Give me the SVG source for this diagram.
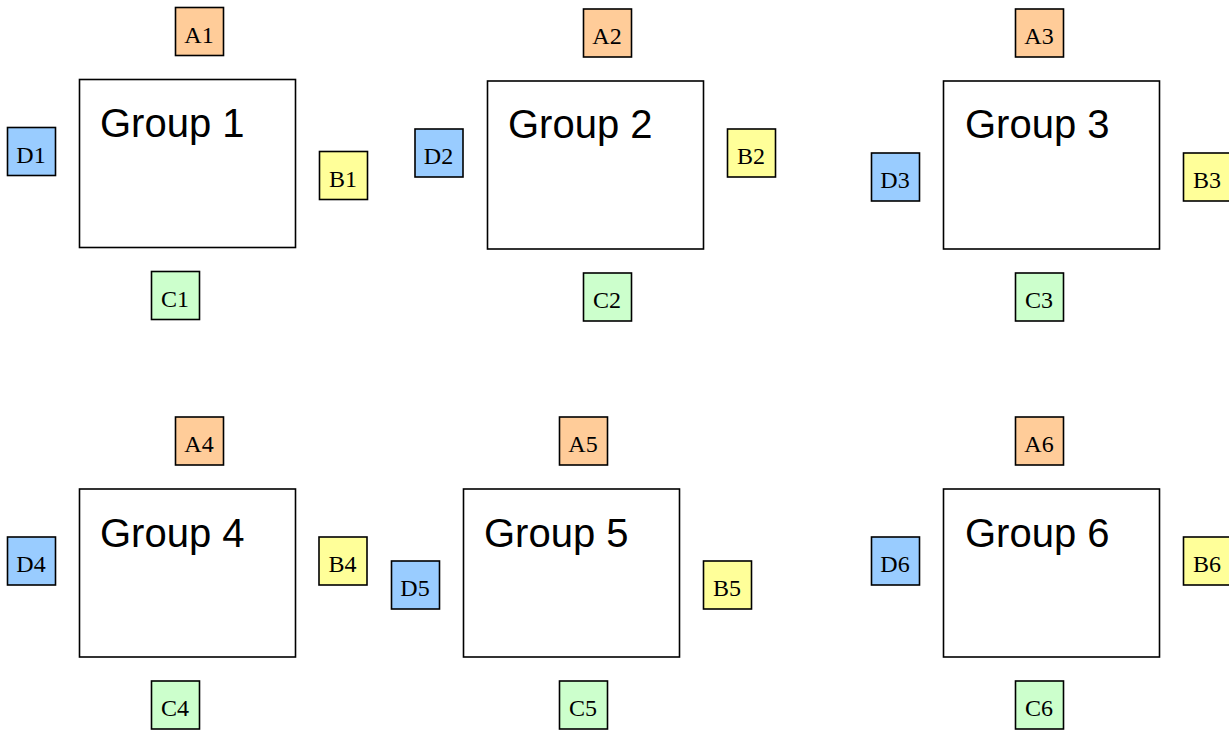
<svg xmlns="http://www.w3.org/2000/svg" width="1229" height="731" viewBox="0 0 1229 731">
  <style>
    .group rect { fill: #ffffff; stroke: #000000; stroke-width: 1.6; }
    .group text { font-family: "Liberation Sans", Arial, sans-serif; font-size: 40px; fill: #000000; }
    .port rect { stroke: #000000; stroke-width: 1.6; }
    .port text { font-family: "Liberation Serif", "Times New Roman", serif; font-size: 24px; fill: #000000; text-anchor: middle; }
    .a rect { fill: #ffcc99; }
    .b rect { fill: #ffff99; }
    .c rect { fill: #ccffcc; }
    .d rect { fill: #99ccff; }
  </style>
  <rect x="0" y="0" width="1229" height="731" fill="#ffffff"/>

  <!-- group containers -->
  <g id="group1" class="group"><rect x="79.5" y="79.5" width="216" height="168"/><text x="100" y="137">Group 1</text></g>
  <g id="group2" class="group"><rect x="487.5" y="81" width="216" height="168"/><text x="508" y="137.5">Group 2</text></g>
  <g id="group3" class="group"><rect x="943.5" y="81" width="216" height="168"/><text x="965" y="137.5">Group 3</text></g>
  <g id="group4" class="group"><rect x="79.5" y="489" width="216" height="168"/><text x="100" y="547">Group 4</text></g>
  <g id="group5" class="group"><rect x="463.5" y="489" width="216" height="168"/><text x="484" y="547">Group 5</text></g>
  <g id="group6" class="group"><rect x="943.5" y="489" width="216" height="168"/><text x="965" y="547">Group 6</text></g>

  <!-- ports around group 1 -->
  <g id="A1" class="port a"><rect x="175.5" y="7.5" width="48" height="48"/><text x="199" y="42.5">A1</text></g>
  <g id="B1" class="port b"><rect x="319.5" y="151.5" width="48" height="48"/><text x="343" y="186.5">B1</text></g>
  <g id="C1" class="port c"><rect x="151.5" y="271.5" width="48" height="48"/><text x="175" y="306.5">C1</text></g>
  <g id="D1" class="port d"><rect x="7.5" y="127.5" width="48" height="48"/><text x="31" y="162.5">D1</text></g>

  <!-- ports around group 2 -->
  <g id="A2" class="port a"><rect x="583.5" y="9" width="48" height="48"/><text x="607" y="44">A2</text></g>
  <g id="B2" class="port b"><rect x="727.5" y="129" width="48" height="48"/><text x="751" y="164">B2</text></g>
  <g id="C2" class="port c"><rect x="583.5" y="273" width="48" height="48"/><text x="607" y="308">C2</text></g>
  <g id="D2" class="port d"><rect x="415" y="129" width="48" height="48"/><text x="438.5" y="164">D2</text></g>

  <!-- ports around group 3 -->
  <g id="A3" class="port a"><rect x="1015.5" y="9" width="48" height="48"/><text x="1039" y="44">A3</text></g>
  <g id="B3" class="port b"><rect x="1183.5" y="153" width="48" height="48"/><text x="1207" y="188">B3</text></g>
  <g id="C3" class="port c"><rect x="1015.5" y="273" width="48" height="48"/><text x="1039" y="308">C3</text></g>
  <g id="D3" class="port d"><rect x="871.5" y="153" width="48" height="48"/><text x="895" y="188">D3</text></g>

  <!-- ports around group 4 -->
  <g id="A4" class="port a"><rect x="175.5" y="417" width="48" height="48"/><text x="199" y="452">A4</text></g>
  <g id="B4" class="port b"><rect x="319" y="537" width="48" height="48"/><text x="342.5" y="572">B4</text></g>
  <g id="C4" class="port c"><rect x="151.5" y="681" width="48" height="48"/><text x="175" y="716">C4</text></g>
  <g id="D4" class="port d"><rect x="7.5" y="537" width="48" height="48"/><text x="31" y="572">D4</text></g>

  <!-- ports around group 5 -->
  <g id="A5" class="port a"><rect x="559.5" y="417" width="48" height="48"/><text x="583" y="452">A5</text></g>
  <g id="B5" class="port b"><rect x="703.5" y="561" width="48" height="48"/><text x="727" y="596">B5</text></g>
  <g id="C5" class="port c"><rect x="559.5" y="681" width="48" height="48"/><text x="583" y="716">C5</text></g>
  <g id="D5" class="port d"><rect x="391.5" y="561" width="48" height="48"/><text x="415" y="596">D5</text></g>

  <!-- ports around group 6 -->
  <g id="A6" class="port a"><rect x="1015.5" y="417" width="48" height="48"/><text x="1039" y="452">A6</text></g>
  <g id="B6" class="port b"><rect x="1183.5" y="537" width="48" height="48"/><text x="1207" y="572">B6</text></g>
  <g id="C6" class="port c"><rect x="1015.5" y="681" width="48" height="48"/><text x="1039" y="716">C6</text></g>
  <g id="D6" class="port d"><rect x="871.5" y="537" width="48" height="48"/><text x="895" y="572">D6</text></g>

  <!-- no connectors between nodes -->
  <g id="connectors"/>
</svg>
